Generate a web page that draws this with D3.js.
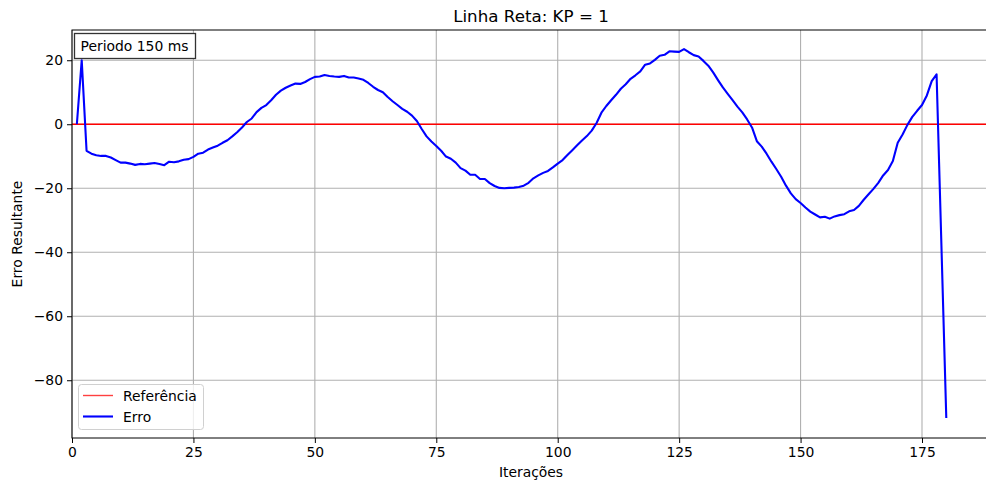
<!DOCTYPE html>
<html>
<head>
<meta charset="utf-8">
<script src="https://cdn.jsdelivr.net/npm/d3@7"></script>
<style>
  body { margin: 0; background: #fff; }
  svg { font-family: "DejaVu Sans", sans-serif; }
</style>
</head>
<body>
<div id="chart"></div>
<script>
// Error per iteration, iterations start at 1
const erro = [
  0, 20, -8.3, -9.2, -9.7, -9.9, -9.9, -10.4, -11.2, -12,
  -12, -12.3, -12.7, -12.4, -12.5, -12.3, -12.1, -12.4, -12.8, -11.7,
  -11.9, -11.6, -11.1, -10.9, -10.2, -9.2, -8.9, -7.9, -7.3, -6.7,
  -5.8, -5, -3.8, -2.5, -1, 0.7, 1.8, 3.8, 5.1, 6,
  7.5, 9.2, 10.5, 11.4, 12.1, 12.7, 12.6, 13.2, 14.1, 14.8,
  14.9, 15.4, 15.1, 14.9, 14.8, 15.1, 14.6, 14.6, 14.3, 13.9,
  12.9, 11.7, 10.7, 10, 8.5, 7.2, 6, 4.8, 3.9, 2.7,
  1, -1.5, -3.8, -5.4, -6.8, -8.3, -10.1, -10.8, -12, -13.7,
  -14.5, -15.8, -15.8, -17.1, -17.1, -18.4, -19.3, -19.9, -20, -19.9,
  -19.8, -19.6, -19.2, -18.3, -16.9, -16, -15.2, -14.6, -13.5, -12.3,
  -11.2, -9.6, -8.1, -6.6, -5.1, -3.7, -2, 0.4, 3.6, 5.7,
  7.5, 9.2, 11.1, 12.5, 14.2, 15.3, 16.5, 18.6, 19, 20.1,
  21.4, 21.7, 22.8, 22.7, 22.6, 23.5, 22.5, 21.6, 21.2, 19.8,
  18.3, 16.2, 13.8, 11.5, 9.5, 7.5, 5.5, 3.7, 1.5, -1,
  -5.3, -7, -9.2, -11.7, -14, -16.4, -19.2, -21.6, -23.4, -24.6,
  -26, -27.3, -28.2, -29.1, -28.9, -29.5, -28.8, -28.4, -28.1, -27.2,
  -26.8, -25.5, -23.6, -21.9, -20.2, -18.3, -16, -14.3, -11.5, -5.8,
  -3.2, -0.2, 2.3, 4.2, 6, 9, 13.5, 15.6, -38, -91.8
];
const referencia = 0;
const xTicks = [0, 25, 50, 75, 100, 125, 150, 175];
const yTicks = [-80, -60, -40, -20, 0, 20];

const width = 986, height = 483;
const plotLeft = 72, plotRight = 990, plotTop = 30, plotBottom = 438;

const svg = d3.select("#chart").append("svg")
    .attr("width", width)
    .attr("height", height);

const x = d3.scaleLinear().domain([0, 189]).range([plotLeft, plotRight]);
const y = d3.scaleLinear().domain([-98.05, 29.45]).range([plotBottom, plotTop]);

// grid
const grid = svg.append("g");
grid.selectAll(".gx").data(xTicks).enter().append("line")
    .attr("x1", d => x(d)).attr("x2", d => x(d))
    .attr("y1", plotTop).attr("y2", plotBottom)
    .attr("stroke", "#b0b0b0").attr("stroke-width", 1.1);
grid.selectAll(".gy").data(yTicks).enter().append("line")
    .attr("x1", plotLeft).attr("x2", plotRight)
    .attr("y1", d => y(d)).attr("y2", d => y(d))
    .attr("stroke", "#b0b0b0").attr("stroke-width", 1.1);

svg.append("clipPath").attr("id", "clip")
    .append("rect").attr("x", plotLeft).attr("y", plotTop)
    .attr("width", plotRight - plotLeft).attr("height", plotBottom - plotTop);

const plot = svg.append("g").attr("clip-path", "url(#clip)");

// reference line
plot.append("line")
    .attr("x1", plotLeft).attr("x2", plotRight)
    .attr("y1", y(referencia)).attr("y2", y(referencia))
    .attr("stroke", "#ff0000").attr("stroke-width", 1.4);

// error line
const line = d3.line()
    .x((d, i) => x(i + 1))
    .y(d => y(d));

plot.append("path")
    .datum(erro)
    .attr("d", line)
    .attr("fill", "none")
    .attr("stroke", "#0000ff")
    .attr("stroke-width", 2.1)
    .attr("stroke-linejoin", "round");

// axes
const fmt = d => (d < 0 ? "\u2212" + Math.abs(d) : String(d));
svg.append("g")
    .attr("transform", `translate(0,${plotBottom})`)
    .call(d3.axisBottom(x).tickValues(xTicks).tickFormat(fmt).tickSize(5).tickPadding(4))
    .call(g => g.select(".domain").remove())
    .call(g => g.selectAll("text").attr("font-size", 13.9).attr("fill", "#000").attr("font-family", "DejaVu Sans"));

svg.append("g")
    .attr("transform", `translate(${plotLeft},0)`)
    .call(d3.axisLeft(y).tickValues(yTicks).tickFormat(fmt).tickSize(5).tickPadding(4))
    .call(g => g.select(".domain").remove())
    .call(g => g.selectAll("text").attr("font-size", 13.9).attr("fill", "#000").attr("font-family", "DejaVu Sans"));

// spines
svg.append("rect")
    .attr("x", plotLeft).attr("y", plotTop)
    .attr("width", plotRight - plotLeft).attr("height", plotBottom - plotTop)
    .attr("fill", "none").attr("stroke", "#000").attr("stroke-width", 1);

// title and labels
svg.append("text")
    .attr("x", (plotLeft + plotRight) / 2).attr("y", 22)
    .attr("text-anchor", "middle")
    .attr("font-size", 16.7)
    .text("Linha Reta: KP = 1");

svg.append("text")
    .attr("x", (plotLeft + plotRight) / 2).attr("y", 477)
    .attr("text-anchor", "middle")
    .attr("font-size", 13.9)
    .text("Iterações");

svg.append("text")
    .attr("transform", `translate(22,${(plotTop + plotBottom) / 2}) rotate(-90)`)
    .attr("text-anchor", "middle")
    .attr("font-size", 13.9)
    .text("Erro Resultante");

// "Periodo" text box
svg.append("rect")
    .attr("x", 74.5).attr("y", 33.5)
    .attr("width", 121).attr("height", 25)
    .attr("fill", "#fff").attr("stroke", "#333").attr("stroke-width", 1.3);
svg.append("text")
    .attr("x", 80.5).attr("y", 50.5)
    .attr("font-size", 13.9)
    .text("Periodo 150 ms");

// legend
const legend = svg.append("g");
legend.append("rect")
    .attr("x", 78.5).attr("y", 384.5)
    .attr("width", 125).attr("height", 45)
    .attr("rx", 3)
    .attr("fill", "#fff").attr("fill-opacity", 0.8)
    .attr("stroke", "#d0d0d0");
const items = [
  { label: "Referência", color: "#ff0000", opacity: 0.75, w: 1.4 },
  { label: "Erro", color: "#0000ff", opacity: 1, w: 2.1 }
];
items.forEach((it, i) => {
  const yy = 395.5 + i * 21;
  legend.append("line")
      .attr("x1", 83).attr("x2", 113)
      .attr("y1", yy).attr("y2", yy)
      .attr("stroke", it.color).attr("stroke-opacity", it.opacity)
      .attr("stroke-width", it.w);
  legend.append("text")
      .attr("x", 123).attr("y", yy + 5)
      .attr("font-size", 13.9)
      .text(it.label);
});
</script>
</body>
</html>
